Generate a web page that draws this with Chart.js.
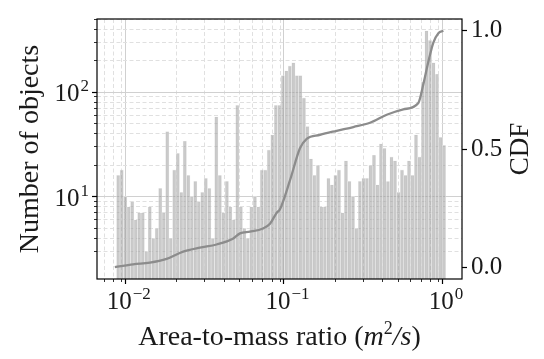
<!DOCTYPE html>
<html>
<head>
<meta charset="utf-8">
<script src="https://cdn.jsdelivr.net/npm/chart.js@4.4.1/dist/chart.umd.min.js"></script>
<style>
  html, body { margin: 0; padding: 0; background: #fff; }
  #wrap { width: 544px; height: 359px; position: relative; }
</style>
</head>
<body>
<div id="wrap"><canvas id="chart"></canvas></div>
<script>
// histogram: log-spaced bins between these edges, counts
const binLow = 0.00836;
const binHigh = 0.9957;
const counts = [
  16, 18, 10, 8, 9, 6, 7, 7, 3, 8,
  4, 5, 12, 7, 42, 4, 18, 26, 11, 34,
  16, 10, 14, 9, 11, 15, 12, 4, 58, 16,
  7, 14, 8, 6, 75, 8, 5, 4, 8, 10,
  8, 18, 18, 28, 39, 75, 75, 144, 160, 178,
  191, 144, 144, 88, 47, 23, 16, 20, 8, 8,
  15, 13, 16, 18, 7, 22, 14, 10, 5, 14,
  15, 15, 20, 25, 13, 32, 29, 14, 24, 22,
  11, 18, 16, 22, 16, 39, 24, 125, 386, 313,
  191, 149, 37, 31
];

// CDF curve
const cdfX = [0.00816, 0.01064, 0.01357, 0.01729, 0.0220, 0.02805, 0.03575, 0.0453,
  0.0502, 0.0580, 0.0701, 0.0776, 0.0855, 0.0897, 0.1037, 0.1199, 0.1322, 0.1603,
  0.2043, 0.2602, 0.3316, 0.4225, 0.5378, 0.6687, 0.719, 0.773, 0.8316, 0.894, 0.9616];
const cdfY = [0.0, 0.012, 0.019, 0.035, 0.066, 0.083, 0.096, 0.12,
  0.143, 0.15, 0.164, 0.184, 0.23, 0.245, 0.367, 0.503, 0.543, 0.56,
  0.577, 0.593, 0.611, 0.645, 0.668, 0.695, 0.774, 0.869, 0.95, 0.99, 1.0];

// tick labels: powers of ten on the log axes, plain values on the CDF axis
const xTickExps = [-2, -1, 0];
const yTickExps = [1, 2];
const cdfTicks = [0, 0.5, 1.0];

const xMin = 0.0063, xMax = 1.26;
const yMin = 1.63, yMax = 500;

// bin centres (geometric) like np.logspace
const nb = counts.length;
const lLo = Math.log10(binLow), lHi = Math.log10(binHigh);
const binCenters = counts.map((_, i) => Math.pow(10, lLo + (i + 0.5) * (lHi - lLo) / nb));

const FONT = "'Liberation Serif', 'DejaVu Serif', serif";
const TXT = '#1a1a1a';

function isNice(v) {
  const m = v / Math.pow(10, Math.floor(Math.log10(v) + 1e-9));
  return Math.abs(m - Math.round(m)) < 1e-6 && Math.round(m) >= 1 && Math.round(m) <= 9;
}
function isDecade(v) {
  const l = Math.log10(v);
  return Math.abs(l - Math.round(l)) < 1e-6;
}
const keepNice = s => { s.ticks = s.ticks.filter(t => isNice(t.value)); };

// "10" with a raised exponent
function powWidth(ctx, e) {
  ctx.font = '25px ' + FONT;
  let w = ctx.measureText('10').width;
  ctx.font = '17px ' + FONT;
  return w + ctx.measureText(String(e).replace('-', '\u2212')).width + 1;
}
function drawPow(ctx, e, x, y) {
  ctx.font = '25px ' + FONT;
  ctx.fillText('10', x, y);
  const w = ctx.measureText('10').width;
  ctx.font = '17px ' + FONT;
  ctx.fillText(String(e).replace('-', '\u2212'), x + w + 1, y - 10);
}

const framePlugin = {
  id: 'frame',
  afterDraw(chart) {
    const { ctx, chartArea: a } = chart;
    ctx.save();
    ctx.strokeStyle = '#000';
    ctx.lineWidth = 1.2;
    ctx.strokeRect(a.left, a.top, a.right - a.left, a.bottom - a.top);

    ctx.fillStyle = TXT;
    ctx.textAlign = 'left';
    ctx.textBaseline = 'alphabetic';
    // tick labels of the log axes
    xTickExps.forEach(e => {
      const px = chart.scales.x.getPixelForValue(Math.pow(10, e));
      drawPow(ctx, e, px - powWidth(ctx, e) / 2, 309);
    });
    yTickExps.forEach(e => {
      const py = chart.scales.y.getPixelForValue(Math.pow(10, e));
      drawPow(ctx, e, 89 - powWidth(ctx, e), py + 9);
    });

    // right axis title, reading upwards like the left one
    ctx.save();
    ctx.font = '27px ' + FONT;
    ctx.textAlign = 'center';
    ctx.textBaseline = 'middle';
    ctx.translate(521, (a.top + a.bottom) / 2);
    ctx.rotate(-Math.PI / 2);
    ctx.fillText('CDF', 0, 0);
    ctx.restore();

    // x axis title with italic units
    const parts = [
      ['28px ' + FONT, 'Area-to-mass ratio ('],
      ['italic 28px ' + FONT, 'm'],
      ['18px ' + FONT, '2', -11],
      ['italic 28px ' + FONT, '/s'],
      ['28px ' + FONT, ')']
    ];
    let w = 0;
    parts.forEach(p => { ctx.font = p[0]; w += ctx.measureText(p[1]).width; });
    let x = (a.left + a.right) / 2 - w / 2;
    const y = 345;
    parts.forEach(p => {
      ctx.font = p[0];
      ctx.fillText(p[1], x, y + (p[2] || 0));
      x += ctx.measureText(p[1]).width;
    });
    ctx.restore();
  }
};

const majorGrid = c => (c.tick && isDecade(c.tick.value)) ? '#d0d0d0' : 'rgba(0,0,0,0)';
const minorGrid = c => (c.tick && !isDecade(c.tick.value)) ? '#e0e0e0' : 'rgba(0,0,0,0)';
const majorTick = c => (c.tick && isDecade(c.tick.value)) ? '#000' : 'rgba(0,0,0,0)';
const minorTick = c => (c.tick && !isDecade(c.tick.value)) ? '#000' : 'rgba(0,0,0,0)';

new Chart(document.getElementById('chart'), {
  data: {
    datasets: [
      {
        type: 'line',
        label: 'CDF',
        data: cdfX.map((x, i) => ({ x: x, y: cdfY[i] })),
        xAxisID: 'x',
        yAxisID: 'y2',
        borderColor: '#8c8c8c',
        borderWidth: 2.3,
        pointRadius: 0,
        cubicInterpolationMode: 'monotone',
        order: 1
      },
      {
        type: 'bar',
        label: 'Number of objects',
        data: binCenters.map((x, i) => ({ x: x, y: counts[i] })),
        xAxisID: 'x',
        yAxisID: 'y',
        backgroundColor: 'rgba(150,150,150,0.5)',
        borderColor: 'rgba(240,240,240,0.7)',
        borderWidth: 0.6,
        barPercentage: 1,
        categoryPercentage: 1,
        order: 2
      }
    ]
  },
  options: {
    responsive: true,
    maintainAspectRatio: false,
    animation: false,
    layout: { padding: { top: 8, left: 0, right: 0, bottom: 0 } },
    plugins: { legend: { display: false }, tooltip: { enabled: false } },
    scales: {
      x: {
        type: 'logarithmic',
        position: 'bottom',
        weight: 1,
        min: xMin,
        max: xMax,
        afterBuildTicks: keepNice,
        afterFit: s => { s.height = 80; },
        border: { display: false },
        grid: { color: majorGrid, tickColor: majorTick, tickLength: 5, tickWidth: 1.2, tickBorderDash: [] },
        ticks: { autoSkip: false, maxRotation: 0, callback: () => '' }
      },
      xm: {
        type: 'logarithmic',
        position: 'bottom',
        weight: 0,
        min: xMin,
        max: xMax,
        afterBuildTicks: keepNice,
        afterFit: s => { s.height = 0; },
        border: { display: false, dash: [4, 2.5] },
        grid: { color: minorGrid, tickColor: minorTick, tickLength: 3, tickWidth: 0.8, tickBorderDash: [] },
        ticks: { display: false, autoSkip: false }
      },
      y: {
        type: 'logarithmic',
        position: 'left',
        weight: 1,
        min: yMin,
        max: yMax,
        afterBuildTicks: keepNice,
        afterFit: s => { s.width = 97; },
        border: { display: false },
        grid: { color: majorGrid, tickColor: majorTick, tickLength: 5, tickWidth: 1.2, tickBorderDash: [] },
        ticks: { autoSkip: false, callback: () => '' },
        title: {
          display: true, text: 'Number of objects',
          color: TXT, font: { family: FONT, size: 28 },
          padding: { top: 14, bottom: 0 }
        }
      },
      ym: {
        type: 'logarithmic',
        position: 'left',
        weight: 0,
        min: yMin,
        max: yMax,
        afterBuildTicks: keepNice,
        afterFit: s => { s.width = 0; },
        border: { display: false, dash: [4, 2.5] },
        grid: { color: minorGrid, tickColor: minorTick, tickLength: 3, tickWidth: 0.8, tickBorderDash: [] },
        ticks: { display: false, autoSkip: false }
      },
      y2: {
        type: 'linear',
        position: 'right',
        min: -0.05,
        max: 1.05,
        afterBuildTicks: s => { s.ticks = cdfTicks.map(v => ({ value: v })); },
        afterFit: s => { s.width = 82; },
        border: { display: false },
        grid: { drawOnChartArea: false, color: 'rgba(0,0,0,0)', tickColor: '#000', tickLength: 5, tickWidth: 1.2 },
        ticks: {
          padding: 4,
          color: TXT, font: { family: FONT, size: 25 },
          callback: v => v.toFixed(1)
        }
      }
    }
  },
  plugins: [framePlugin]
});
</script>
</body>
</html>
